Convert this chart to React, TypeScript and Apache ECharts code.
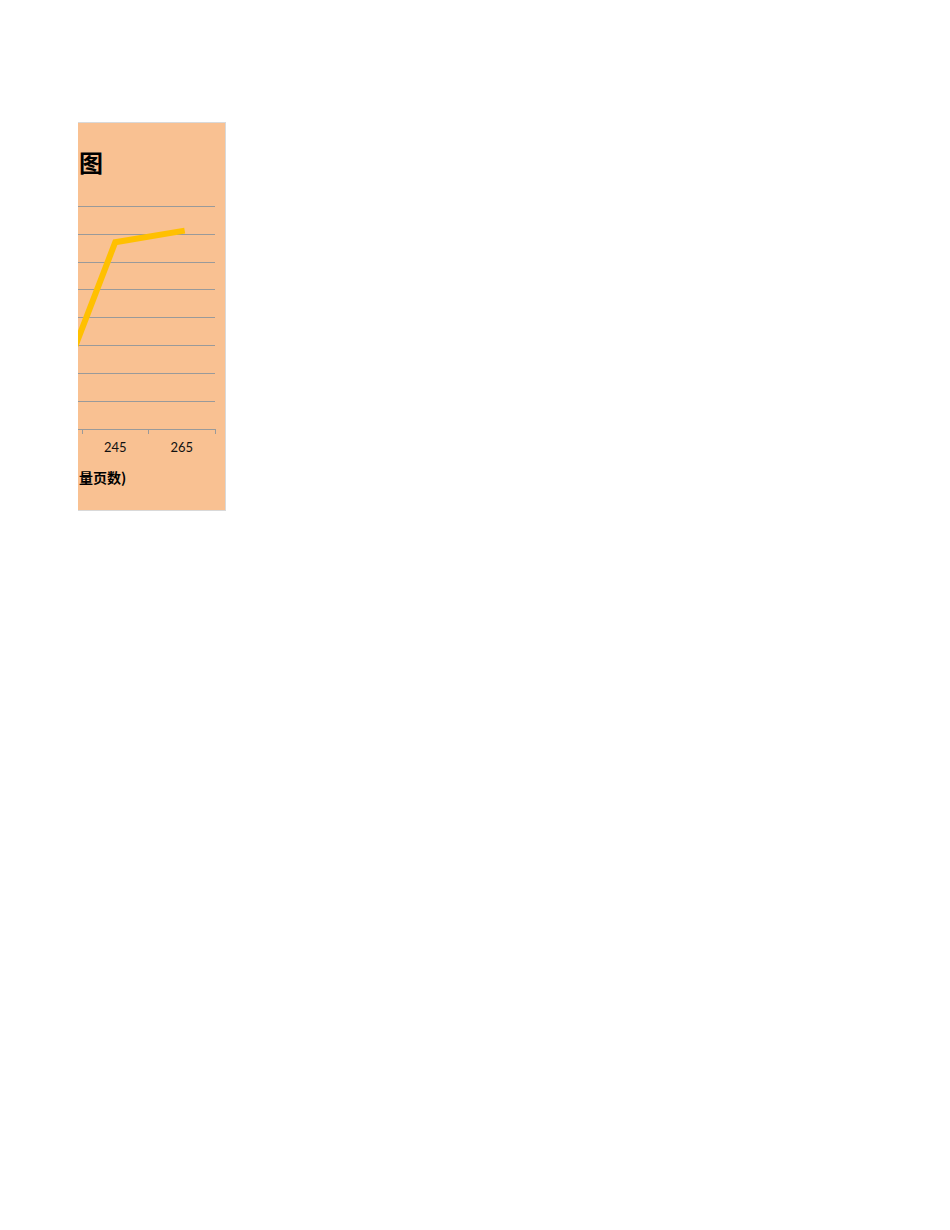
import React, { useEffect, useRef } from 'react'
import * as echarts from 'echarts'

// visible part of the chart only: the left side is cut off in the source
const categories = ['225', '245', '265']
const values = [5, 67, 71]
const titleText = '图'
const xAxisName = '量页数)'

// hidden strip on the left, clipped by the outer box
const HIDDEN = 100

const App: React.FC = () => {
    const chartRef = useRef<HTMLDivElement>(null)

    useEffect(() => {
        if (!chartRef.current) {
            return
        }

        const chart = echarts.init(chartRef.current, undefined, { renderer: 'svg' })

        const option = {
            animation: false,
            backgroundColor: '#F9C192',
            title: {
                text: titleText,
                left: HIDDEN - 4,
                top: 21,
                textStyle: {
                    fontSize: 24,
                    fontWeight: 'bold',
                    color: '#000',
                    fontFamily: 'Noto Sans CJK SC',
                },
            },
            grid: {
                left: HIDDEN - 62.5,
                right: 10,
                top: 83,
                bottom: 81,
            },
            xAxis: {
                type: 'category',
                data: categories,
                boundaryGap: true,
                axisLine: { lineStyle: { color: '#9A9A9A', width: 1 } },
                axisTick: { show: true, length: 5, lineStyle: { color: '#9A9A9A' } },
                axisLabel: {
                    showMinLabel: false,
                    color: '#111',
                    fontSize: 13,
                    fontFamily: 'Lato',
                    margin: 11,
                },
            },
            yAxis: {
                type: 'value',
                min: 0,
                max: 80,
                interval: 10,
                axisLine: { show: false },
                axisTick: { show: false },
                axisLabel: { show: false },
                splitLine: { lineStyle: { color: '#9A9A9A', width: 1 } },
            },
            graphic: [
                {
                    type: 'text',
                    left: HIDDEN + 1,
                    top: 347,
                    style: {
                        text: xAxisName,
                        fill: '#000',
                        font: 'bold 14px "Noto Sans CJK SC"',
                    },
                },
            ],
            series: [
                {
                    type: 'line',
                    data: values,
                    symbol: 'none',
                    lineStyle: {
                        color: '#FFC000',
                        width: 6,
                        cap: 'square',
                        join: 'miter',
                    },
                },
            ],
        }

        chart.setOption(option)

        return () => {
            chart.dispose()
        }
    }, [])

    return (
        <div
            style={{
                position: 'absolute',
                left: 78,
                top: 122,
                width: 147,
                height: 387,
                overflow: 'hidden',
                borderTop: '1px solid #D9D9D9',
                borderRight: '1px solid #D9D9D9',
                borderBottom: '1px solid #D9D9D9',
            }}
        >
            <div ref={chartRef} style={{ width: 147 + HIDDEN, height: 387, marginLeft: -HIDDEN }} />
        </div>
    )
}

export default App
